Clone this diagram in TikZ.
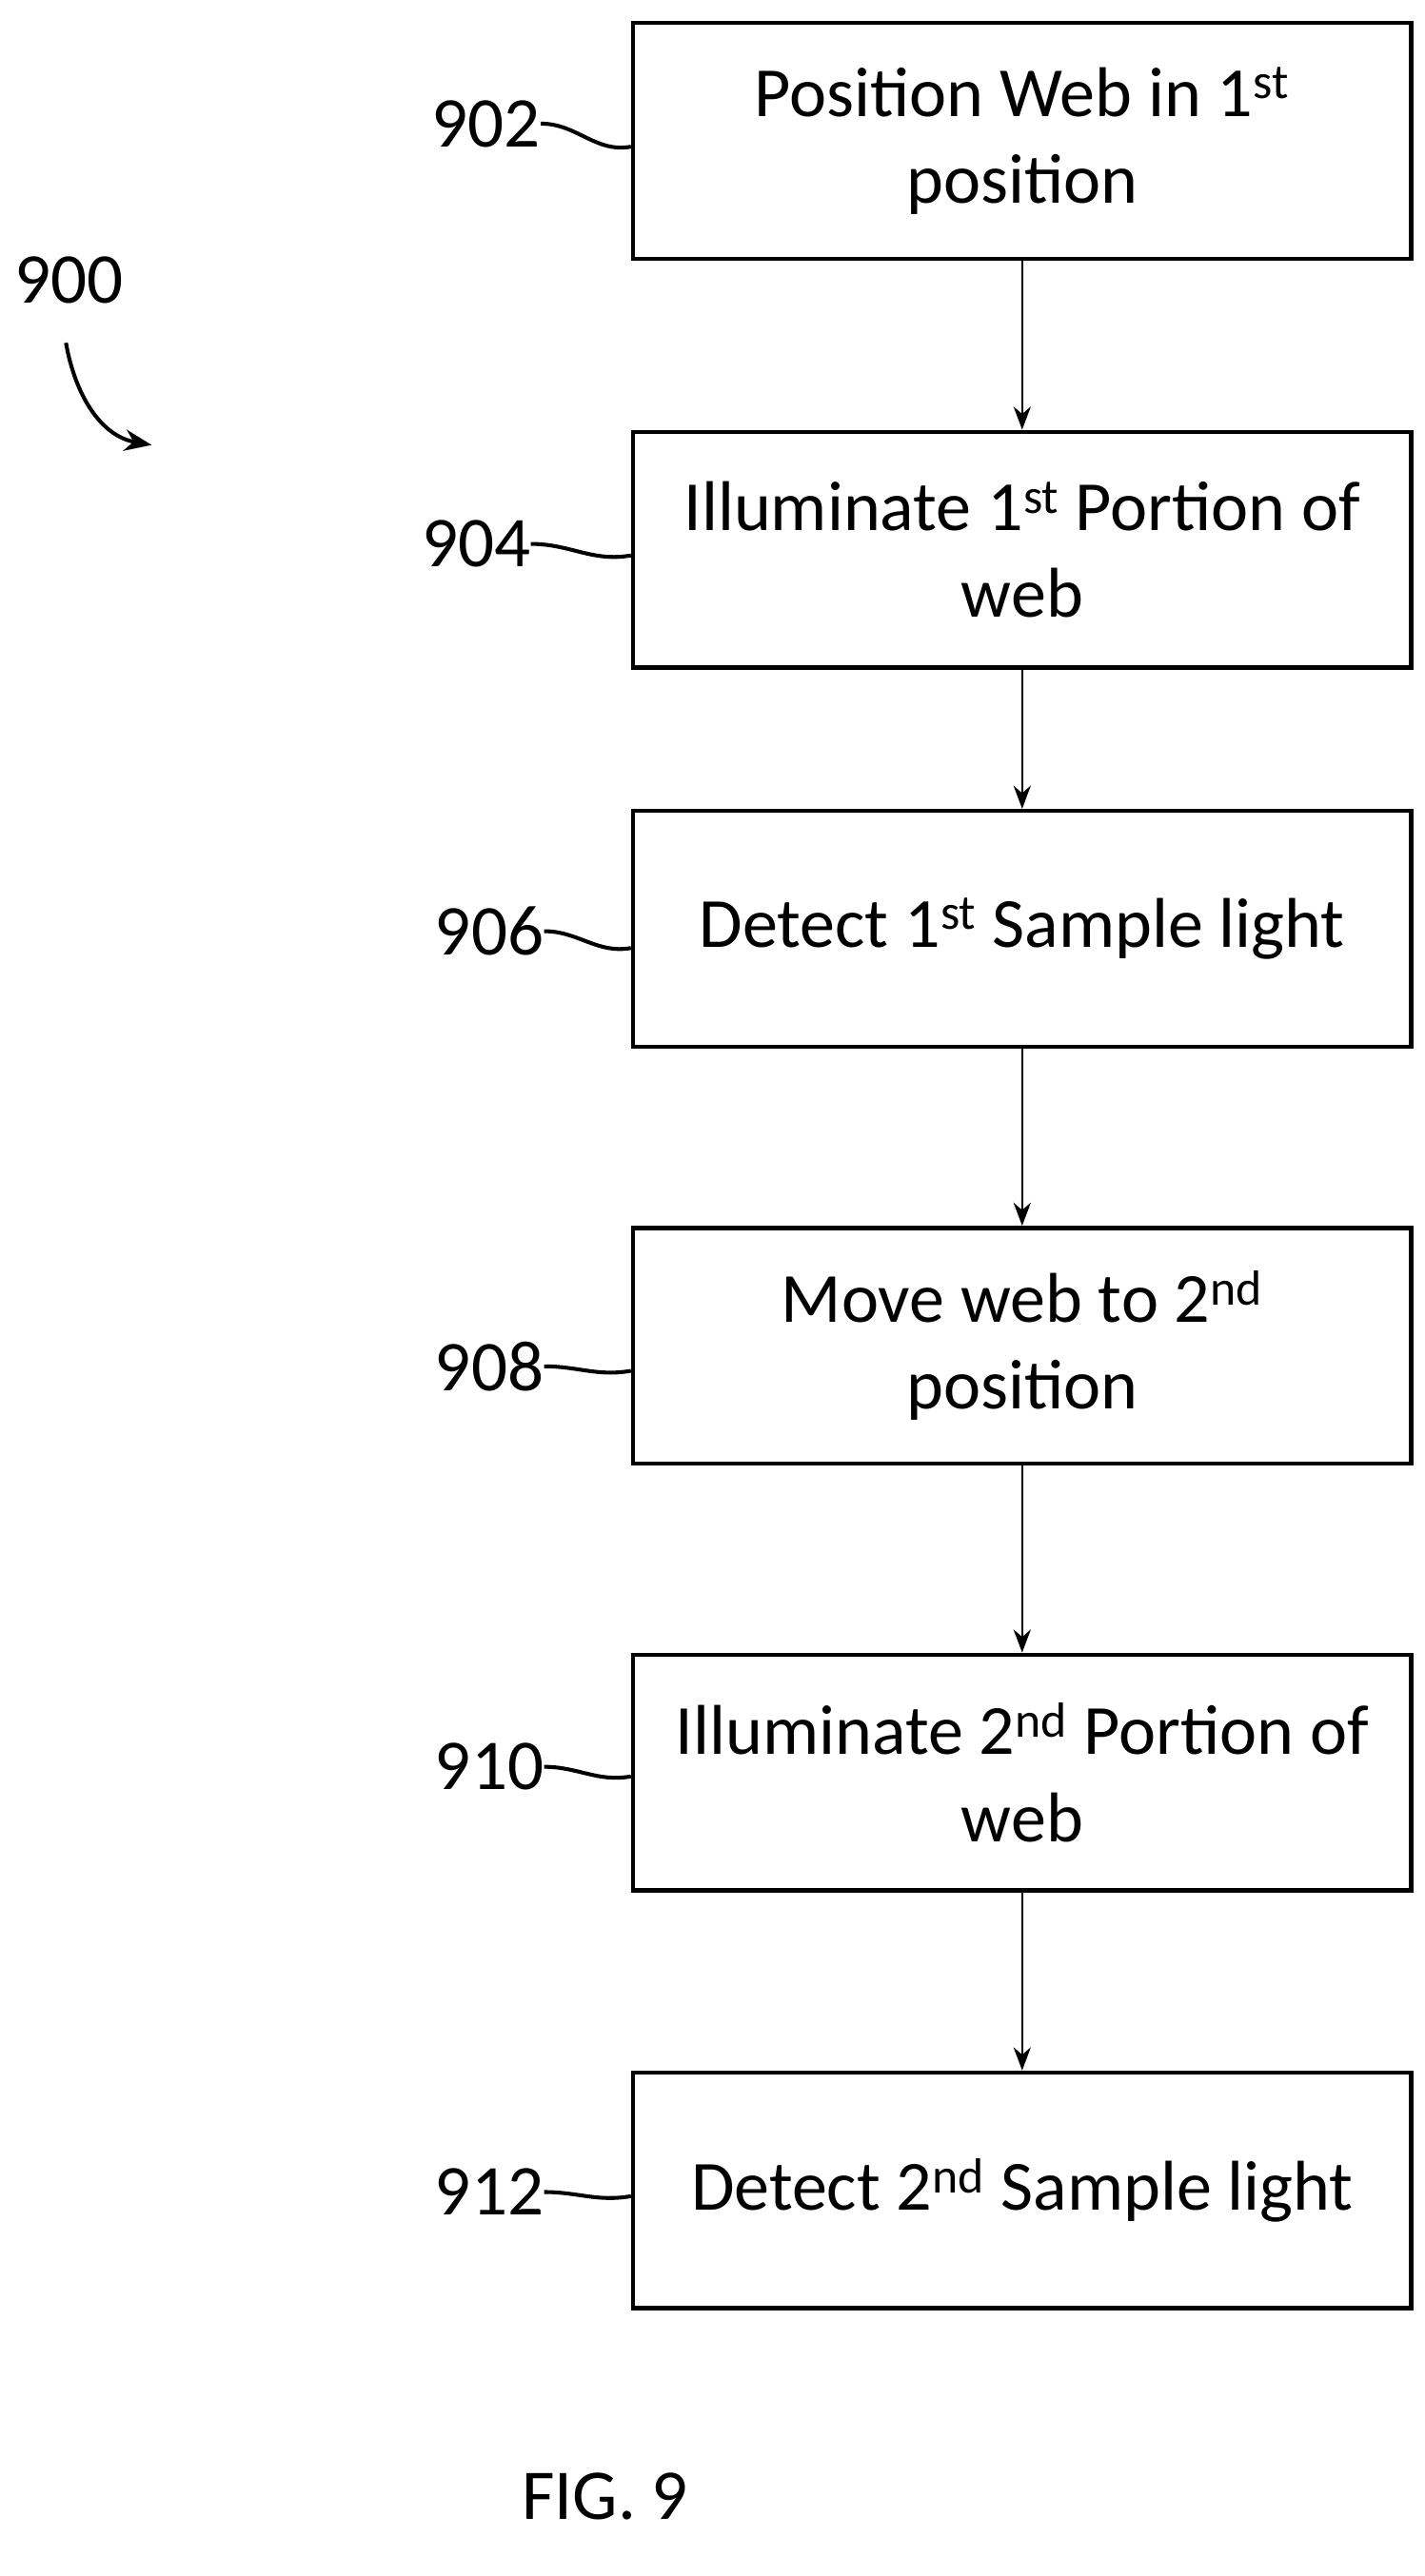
\documentclass[tikz,border=0pt]{standalone}
\usepackage{fontspec}
\setmainfont{Carlito}
\usetikzlibrary{arrows.meta, positioning}

\tikzset{
  procbox/.style={draw, line width=2.2pt, minimum width=14.16cm, minimum height=4.29cm,
    align=center, font=\fontsize{36.5}{45}\selectfont, inner sep=0pt},
  flow/.style={line width=0.7pt, -{Stealth[length=12pt, width=9pt]}},
  lead/.style={line width=2pt},
  refnum/.style={font=\fontsize{37}{44}\selectfont, anchor=east, inner sep=0pt}
}

\begin{document}
\begin{tikzpicture}[x=0.03cm, y=-0.03cm]

    % Page
    \useasboundingbox (0,0) rectangle (864,1563);

    % Process steps
    \node[procbox] (S1) at (620, 85.5) {Position Web in 1\textsuperscript{st}\\position};
    \node[procbox] (S2) at (620, 333.5) {Illuminate 1\textsuperscript{st} Portion of\\web};
    \node[procbox] (S3) at (620, 563.5) {Detect 1\textsuperscript{st} Sample light};
    \node[procbox] (S4) at (620, 816.5) {Move web to 2\textsuperscript{nd}\\position};
    \node[procbox] (S5) at (620, 1075.5) {Illuminate 2\textsuperscript{nd} Portion of\\web};
    \node[procbox] (S6) at (620, 1329) {Detect 2\textsuperscript{nd} Sample light};

    % Arrows between steps
    \draw[flow] (S1) -- (S2);
    \draw[flow] (S2) -- (S3);
    \draw[flow] (S3) -- (S4);
    \draw[flow] (S4) -- (S5);
    \draw[flow] (S5) -- (S6);

    % Reference numerals
    \node[refnum] (R902) at (328, 75) {902};
    \node[refnum] (R904) at (322, 330) {904};
    \node[refnum] (R906) at (330, 565) {906};
    \node[refnum] (R908) at (330, 829) {908};
    \node[refnum] (R910) at (330, 1072) {910};
    \node[refnum] (R912) at (330, 1330) {912};

    % Leader lines
    \draw[lead] (R902.east) to[out=0, in=190] ([yshift=-3]S1.west);
    \draw[lead] (R904.east) to[out=0, in=190] ([yshift=-3]S2.west);
    \draw[lead] (R906.east) to[out=0, in=190] ([yshift=-10]S3.west);
    \draw[lead] (R908.east) to[out=0, in=190] ([yshift=-13]S4.west);
    \draw[lead] (R910.east) to[out=0, in=190] ([yshift=-2]S5.west);
    \draw[lead] (R912.east) to[out=0, in=190] ([yshift=-3]S6.west);

    % Figure number and caption
    \node[font=\fontsize{37}{44}\selectfont] (R900) at (42, 170) {900};
    \coordinate (T900) at (40, 208);
    \coordinate (A900) at (92, 270);
    \draw[lead, -{Stealth[length=14pt, width=11pt]}] (T900) to[out=-80, in=170] (A900);
    \node[font=\fontsize{37}{44}\selectfont] (FIG) at (367, 1515) {FIG. 9};

\end{tikzpicture}
\end{document}
